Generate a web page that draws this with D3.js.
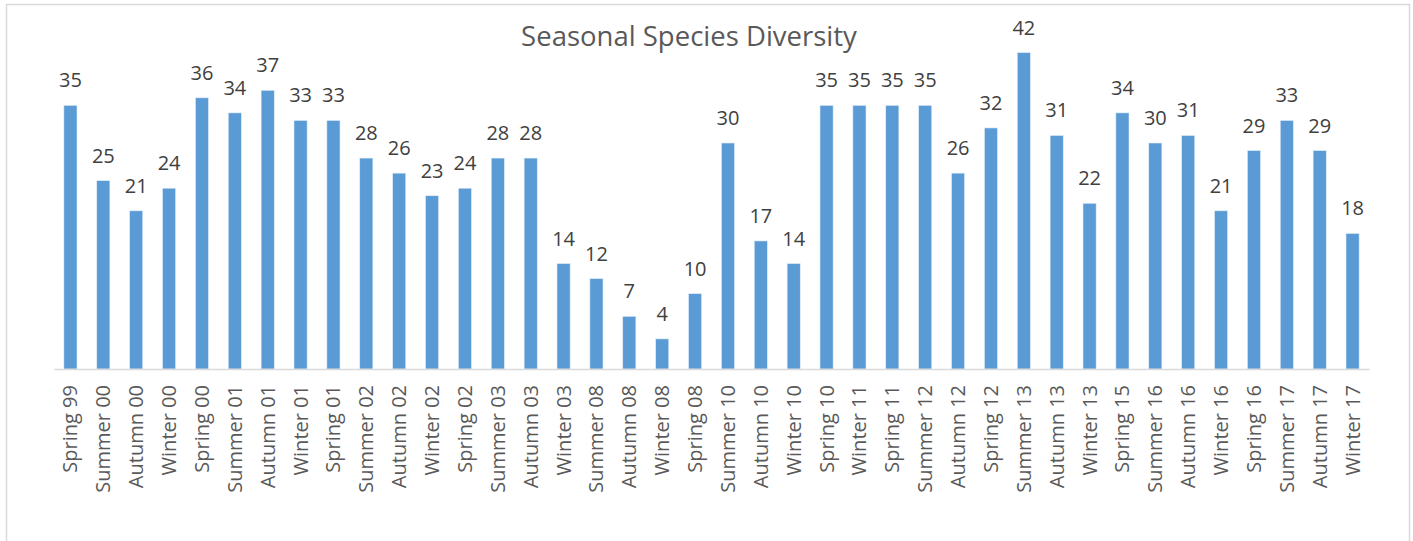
<!DOCTYPE html>
<html>
<head>
<meta charset="utf-8">
<script src="https://cdn.jsdelivr.net/npm/d3@7"></script>
<style>
  body { margin: 0; background: #fff; }
  svg { display: block; font-family: "Open Sans", sans-serif; }
</style>
</head>
<body>
<script>
// season labels along the x axis
const seasons = [
  "Spring 99", "Summer 00", "Autumn 00", "Winter 00", "Spring 00",
  "Summer 01", "Autumn 01", "Winter 01", "Spring 01", "Summer 02",
  "Autumn 02", "Winter 02", "Spring 02", "Summer 03", "Autumn 03",
  "Winter 03", "Summer 08", "Autumn 08", "Winter 08", "Spring 08",
  "Summer 10", "Autumn 10", "Winter 10", "Spring 10", "Winter 11",
  "Spring 11", "Summer 12", "Autumn 12", "Spring 12", "Summer 13",
  "Autumn 13", "Winter 13", "Spring 15", "Summer 16", "Autumn 16",
  "Winter 16", "Spring 16", "Summer 17", "Autumn 17", "Winter 17"
];

// species counts per season
const diversity = [
  35, 25, 21, 24, 36, 34, 37, 33, 33, 28,
  26, 23, 24, 28, 28, 14, 12, 7, 4, 10,
  30, 17, 14, 35, 35, 35, 35, 26, 32, 42,
  31, 22, 34, 30, 31, 21, 29, 33, 29, 18
];

const yMax = 45;
const title = "Seasonal Species Diversity";

const width = 1413, height = 541;
const margin = {top: 30, right: 44, bottom: 172, left: 54};

const data = seasons.map((s, i) => ({season: s, value: diversity[i]}));

const svg = d3.select("body").append("svg")
    .attr("width", width)
    .attr("height", height);

// chart frame
svg.append("rect")
    .attr("x", 6.5)
    .attr("y", 4.5)
    .attr("width", 1403)
    .attr("height", 560)
    .attr("fill", "#fff")
    .attr("stroke", "#d9d9d9")
    .attr("stroke-width", 1.5);

const x = d3.scaleBand()
    .domain(seasons)
    .range([margin.left, width - margin.right])
    .paddingInner(0.6)
    .paddingOuter(0.3);

const y = d3.scaleLinear()
    .domain([0, yMax])
    .range([height - margin.bottom, margin.top]);

svg.append("text")
    .attr("x", 689)
    .attr("y", 46)
    .attr("text-anchor", "middle")
    .attr("fill", "#595959")
    .style("font-size", "27.5px")
    .text(title);

svg.append("g")
    .selectAll("rect")
    .data(data)
    .join("rect")
    .attr("x", d => x(d.season))
    .attr("y", d => y(d.value))
    .attr("width", x.bandwidth())
    .attr("height", d => y(0) - y(d.value))
    .attr("fill", "#5b9bd5")
    .attr("stroke", "#e6eef8")
    .attr("stroke-width", 0.6);

svg.append("g")
    .selectAll("text")
    .data(data)
    .join("text")
    .attr("x", d => x(d.season) + x.bandwidth() / 2)
    .attr("y", d => y(d.value) - 18)
    .attr("text-anchor", "middle")
    .attr("fill", "#404040")
    .style("font-size", "20px")
    .text(d => d.value);

const xAxis = svg.append("g")
    .attr("transform", `translate(0,${y(0)})`)
    .call(d3.axisBottom(x).tickSize(0).tickPadding(0));

xAxis.select(".domain")
    .attr("stroke", "#d9d9d9")
    .attr("stroke-width", 1.5);

xAxis.selectAll(".tick text")
    .attr("transform", "rotate(-90)")
    .attr("x", -16)
    .attr("y", 0)
    .attr("dy", "0.35em")
    .attr("text-anchor", "end")
    .attr("fill", "#595959")
    .style("font-size", "20px")
    .style("font-family", "'Open Sans', sans-serif");
</script>
</body>
</html>
